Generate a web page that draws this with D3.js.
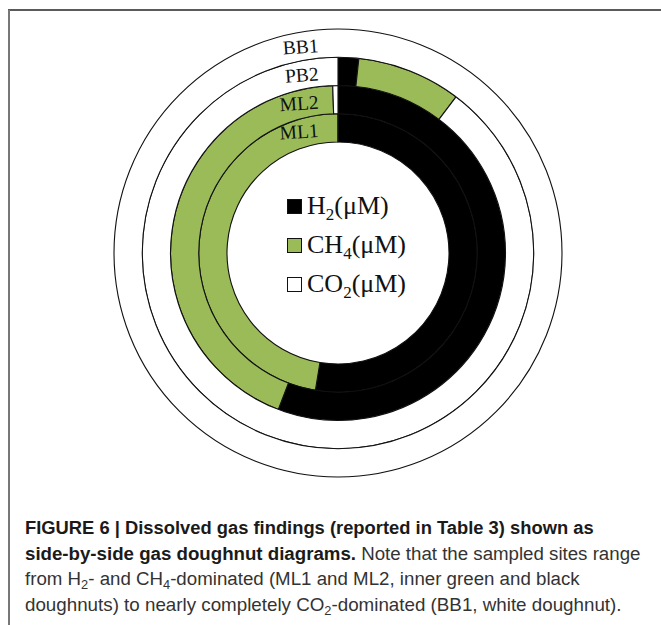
<!DOCTYPE html>
<html>
<head>
<meta charset="utf-8">
<script src="https://cdn.jsdelivr.net/npm/d3@7"></script>
<style>
  body { margin: 0; background: #fff; }
</style>
</head>
<body>
<script>
// sites, inner ring to outer ring
var sites = ["ML1", "ML2", "PB2", "BB1"];
// share of each gas per site (%)
var h2 = [52.6, 55.8, 1.7, 0];
var ch4 = [47.4, 43.7, 8.6, 0];
var co2 = [0, 0.5, 89.7, 100];
var gasNames = [["H", "2"], ["CH", "4"], ["CO", "2"]];
var gasColors = ["#000000", "#9bbb59", "#ffffff"];

var captionLines = [
  [["FIGURE 6 | Dissolved gas findings (reported in Table 3) shown as", "b"]],
  [["side-by-side gas doughnut diagrams.", "b"], [" Note that the sampled sites range", ""]],
  [["from H", ""], ["2", "s"], ["- and CH", ""], ["4", "s"], ["-dominated (ML1 and ML2, inner green and black", ""]],
  [["doughnuts) to nearly completely CO", ""], ["2", "s"], ["-dominated (BB1, white doughnut).", ""]]
];
var captionWidths = [569, 616, 555, 597];

var width = 661, height = 625;
var cx = 338, cy = 253;

var svg = d3.select("body").append("svg")
    .attr("width", width)
    .attr("height", height);

// frame (only top and left edges show in the crop)
svg.append("line").attr("x1", 8).attr("x2", width).attr("y1", 10).attr("y2", 10)
    .attr("stroke", "#5a5a5a").attr("stroke-width", 2);
svg.append("line").attr("x1", 9).attr("x2", 9).attr("y1", 10).attr("y2", height)
    .attr("stroke", "#777").attr("stroke-width", 2);

var chart = svg.append("g").attr("transform", "translate(" + cx + "," + cy + ")");

var rScale = d3.scaleLinear().domain([0, sites.length]).range([111, 224]);
var pie = d3.pie().sort(null).value(function(d) { return d; });

var rings = sites.map(function(s, i) {
    return { site: s, values: [h2[i], ch4[i], co2[i]], i: i };
});

rings.forEach(function(ring) {
    var arc = d3.arc()
        .innerRadius(rScale(ring.i))
        .outerRadius(rScale(ring.i + 1));
    chart.append("g")
        .attr("class", "ring")
        .selectAll("path")
        .data(pie(ring.values))
        .enter().append("path")
        .attr("d", arc)
        .attr("fill", function(d, j) { return gasColors[j]; })
        .attr("stroke", "#111")
        .attr("stroke-width", 1.1)
        .attr("stroke-linejoin", "miter");
});

// site labels just left of 12 o'clock
chart.selectAll(".siteLabel")
    .data(rings)
    .enter().append("text")
    .attr("class", "siteLabel")
    .attr("transform", function(d) {
        var rm = (rScale(d.i) + rScale(d.i + 1)) / 2;
        return "translate(" + (-19) + "," + (-rm + 9) + ") rotate(-4)";
    })
    .attr("text-anchor", "end")
    .attr("font-family", "Liberation Serif, Times New Roman, serif")
    .attr("font-size", 19.5)
    .attr("fill", "#111")
    .text(function(d) { return d.site; });

// legend in the hole
var legend = svg.selectAll(".legend")
    .data(gasNames)
    .enter().append("g")
    .attr("class", "legend")
    .attr("transform", function(d, i) { return "translate(287," + (214 + i * 39) + ")"; });

legend.append("rect")
    .attr("x", 0.5)
    .attr("y", -14.5)
    .attr("width", 14)
    .attr("height", 14)
    .attr("fill", function(d, i) { return gasColors[i]; })
    .attr("stroke", "#111")
    .attr("stroke-width", 1);

var ltext = legend.append("text")
    .attr("x", 20)
    .attr("y", 0)
    .attr("font-family", "Liberation Serif, Times New Roman, serif")
    .attr("font-size", 26)
    .attr("fill", "#111");
ltext.append("tspan").text(function(d) { return d[0]; });
ltext.append("tspan").attr("font-size", 17).attr("dy", 6).text(function(d) { return d[1]; });
ltext.append("tspan").attr("dy", -6).text("(\u03BCM)");

// caption: each line squeezed horizontally to the measured width
var cap = svg.append("g").attr("class", "caption");
captionLines.forEach(function(line, k) {
    var g = cap.append("g");
    var t = g.append("text")
        .attr("x", 0)
        .attr("y", 0)
        .attr("font-family", "Liberation Sans Narrow, Liberation Sans, Arial, sans-serif")
        .attr("font-size", 19);
    line.forEach(function(seg) {
        var ts = t.append("tspan").text(seg[0]);
        if (seg[1] === "b") {
            ts.attr("font-weight", "bold").attr("fill", "#1a1a1a");
        } else {
            ts.attr("fill", "#333");
        }
        if (seg[1] === "s") {
            ts.attr("font-size", 13).attr("baseline-shift", "-4");
        }
    });
    var w = t.node().getComputedTextLength();
    var sx = captionWidths[k] / w;
    g.attr("transform", "translate(25," + (534 + k * 25.5) + ") scale(" + sx + ",1)");
});
</script>
</body>
</html>
